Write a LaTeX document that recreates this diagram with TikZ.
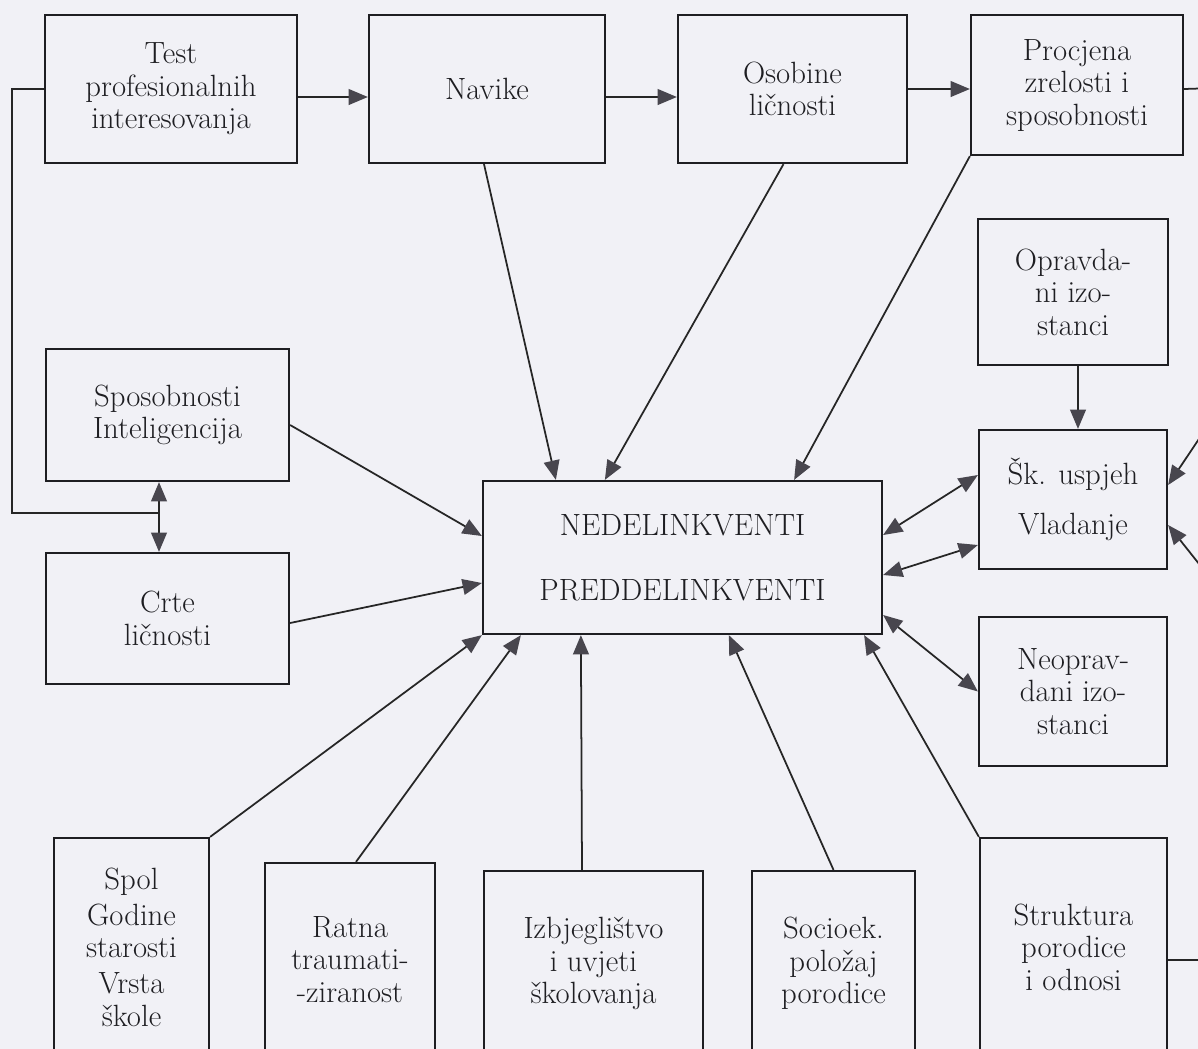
\documentclass[tikz,border=0pt]{standalone}
\usepackage{tikz}
\usetikzlibrary{arrows.meta,calc}
\definecolor{papir}{RGB}{241,241,246}
\definecolor{strelica}{RGB}{72,70,78}
\definecolor{tinta}{RGB}{30,30,34}

\begin{document}
\begin{tikzpicture}[x=0.02cm,y=-0.02cm,
  box/.style={draw=tinta,line width=1.3pt,align=center,inner sep=0pt,text=tinta,
    font=\fontsize{17.5}{18.5}\selectfont},
  vrh/.tip={Triangle[length=11pt,width=9pt,fill=strelica,color=strelica]},
  ln/.style={draw=black!85,line width=1pt},
  arr/.style={ln,-{vrh}},
  arrb/.style={ln,{vrh}-{vrh}}]
\useasboundingbox (0,0) rectangle (1198,1049);
\clip (0,0) rectangle (1198,1049);
\fill[papir] (0,0) rectangle (1198,1049);
\node[box,minimum width=5.04cm,minimum height=2.96cm] (test) at (171,89) {Test\\profesionalnih\\interesovanja};
\node[box,minimum width=4.72cm,minimum height=2.96cm] (navike) at (487,89) {Navike};
\node[box,minimum width=4.58cm,minimum height=2.96cm] (osobine) at (792.5,89) {Osobine\\ličnosti};
\node[box,minimum width=4.24cm,minimum height=2.80cm] (procjena) at (1077,85) {Procjena\\zrelosti i\\sposobnosti};
\node[box,minimum width=3.80cm,minimum height=2.92cm] (opravdani) at (1073,292) {Opravda-\\ni izo-\\stanci};
\node[box,minimum width=3.76cm,minimum height=2.78cm] (uspjeh) at (1073,499.5) {Šk. uspjeh\\[10pt]Vladanje};
\node[box,minimum width=3.76cm,minimum height=2.98cm] (neoprav) at (1073,691.5) {Neoprav-\\dani izo-\\stanci};
\node[box,minimum width=4.86cm,minimum height=2.64cm] (sposob) at (167.5,415) {Sposobnosti\\Inteligencija};
\node[box,minimum width=4.86cm,minimum height=2.62cm] (crte) at (167.5,618.5) {Crte\\ličnosti};
\node[box,minimum width=7.98cm,minimum height=3.06cm] (grupe) at (682.5,557.5) {NEDELINKVENTI\\[18.5pt]PREDDELINKVENTI};
\node[box,minimum width=3.10cm,minimum height=4.36cm] (spol) at (131.5,947) {Spol\\[2pt]Godine\\starosti\\[2pt]Vrsta\\škole};
\node[box,minimum width=3.40cm,minimum height=3.86cm] (ratna) at (350,959.5) {Ratna\\traumati-\\-ziranost};
\node[box,minimum width=4.38cm,minimum height=3.70cm] (izbjeg) at (593.5,963.5) {Izbjeglištvo\\i uvjeti\\školovanja};
\node[box,minimum width=3.26cm,minimum height=3.70cm] (socioek) at (833.5,963.5) {Socioek.\\položaj\\porodice};
\node[box,minimum width=3.74cm,minimum height=4.36cm] (struktura) at (1073.5,947) {Struktura\\porodice\\i odnosi};
\coordinate (spoj) at (159,513);
\coordinate (izlaz1) at (1215,88);
\coordinate (izlaz2) at (1215,960);
\coordinate (ulaz1) at (1215,415);
\coordinate (ulaz2) at (1215,584);
\draw[arr] ([yshift=-0.16cm]test.east) -- ([yshift=-0.16cm]navike.west);
\draw[arr] ([yshift=-0.16cm]navike.east) -- ([yshift=-0.16cm]osobine.west);
\draw[arr] (osobine.east) -- (osobine.east -| procjena.west);
\draw[ln] (procjena.east |- osobine.east) -- (izlaz1);
\draw[ln] (test.west) -- ++(-32,0) |- (spoj);
\draw[arrb] (sposob.south -| spoj) -- (crte.north -| spoj);
\draw[arr] ([xshift=-0.06cm]navike.south) -- ([xshift=1.48cm]grupe.north west);
\draw[arr] ([xshift=-0.18cm]osobine.south) -- ([xshift=2.46cm]grupe.north west);
\draw[arr] (procjena.south west) -- ([xshift=-1.78cm]grupe.north east);
\draw[arr] ([yshift=-0.2cm]sposob.east) -- ([yshift=0.43cm]grupe.west);
\draw[arr] ([yshift=-0.09cm]crte.east) -- ([yshift=-0.51cm]grupe.west);
\draw[arr] (spol.north east) -- (grupe.south west);
\draw[arr] ([xshift=0.12cm]ratna.north) -- ([xshift=0.78cm]grupe.south west);
\draw[arr] ([xshift=-0.23cm]izbjeg.north) -- ([xshift=1.98cm]grupe.south west);
\draw[arr] (socioek.north) -- ([xshift=4.94cm]grupe.south west);
\draw[arr] (struktura.north west) -- ([xshift=-0.38cm]grupe.south east);
\draw[arrb] ([yshift=0.45cm]grupe.east) -- ([yshift=0.49cm]uspjeh.west);
\draw[arrb] ([yshift=-0.35cm]grupe.east) -- ([yshift=-0.91cm]uspjeh.west);
\draw[arrb] ([yshift=-1.15cm]grupe.east) -- (neoprav.west);
\draw[arr] ([xshift=0.1cm]opravdani.south) -- ([xshift=0.1cm]uspjeh.north);
\draw[arr] (ulaz1) -- ([yshift=0.29cm]uspjeh.east);
\draw[arr] (ulaz2) -- ([yshift=-0.51cm]uspjeh.east);
\draw[ln] ([yshift=-0.26cm]struktura.east) -- (izlaz2);
\end{tikzpicture}
\end{document}
